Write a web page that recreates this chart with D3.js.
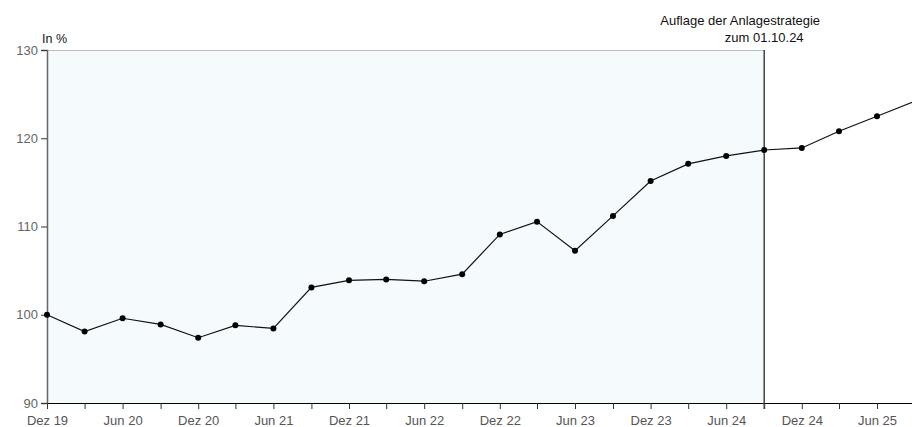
<!DOCTYPE html>
<html>
<head>
<meta charset="utf-8">
<script src="https://cdn.jsdelivr.net/npm/d3@7"></script>
<style>
  html, body { margin: 0; padding: 0; background: #fff; }
  svg { display: block; font-family: "Liberation Sans", Arial, sans-serif; }
</style>
</head>
<body>
<div id="chart"></div>
<script>
const width = 912;
const height = 427;
const margin = {top: 50, right: 35, bottom: 24, left: 47};

// quarterly values, Dez 19 .. Sep 25
const dates = [
    "2019-12", "2020-03", "2020-06", "2020-09", "2020-12", "2021-03", "2021-06", "2021-09",
    "2021-12", "2022-03", "2022-06", "2022-09", "2022-12", "2023-03", "2023-06", "2023-09",
    "2023-12", "2024-03", "2024-06", "2024-09", "2024-12", "2025-03", "2025-06", "2025-09"
];
const values = [
    100.0, 98.1, 99.6, 98.9, 97.4, 98.8, 98.45, 103.1,
    103.9, 104.0, 103.8, 104.6, 109.1, 110.55, 107.25, 111.2,
    115.15, 117.1, 118.0, 118.67, 118.9, 120.8, 122.5, 124.2
];
const yTicks = [90, 100, 110, 120, 130];
const monthNames = {6: "Jun", 12: "Dez"};
const launchDate = "2024-09";
const annotation = ["Auflage der Anlagestrategie", "zum 01.10.24"];

const parse = d3.utcParse("%Y-%m");
const data = dates.map((d, i) => ({date: parse(d), value: values[i]}));

const x = d3.scaleUtc()
    .domain([parse("2019-12"), parse("2025-06")])
    .range([margin.left, 877]);

const y = d3.scaleLinear()
    .domain([90, 130])
    .range([height - margin.bottom, margin.top]);

const svg = d3.create("svg")
    .attr("width", width)
    .attr("height", height);

const launchX = x(parse(launchDate));

// shaded history area
svg.append("rect")
    .attr("x", margin.left)
    .attr("y", y(130))
    .attr("width", launchX - margin.left)
    .attr("height", y(90) - y(130))
    .attr("fill", "#f5fafc");

svg.append("line")
    .attr("x1", margin.left).attr("x2", launchX)
    .attr("y1", y(130) + 0.5).attr("y2", y(130) + 0.5)
    .attr("stroke", "#bdbdbd");

// y axis
const yAxis = svg.append("g")
    .attr("transform", `translate(${margin.left},0)`)
    .call(d3.axisLeft(y).tickValues(yTicks).tickSize(6).tickPadding(3));
yAxis.select(".domain").attr("stroke", "#666").attr("stroke-width", 1.5);
yAxis.selectAll(".tick line").attr("stroke", "#333");
yAxis.selectAll("text").attr("fill", "#666").attr("font-size", "13px")
    .attr("font-family", "Liberation Sans, Arial, sans-serif");

// x axis
const xAxis = svg.append("g")
    .attr("transform", `translate(0,${y(90)})`)
    .call(d3.axisBottom(x)
        .tickValues(data.map(d => d.date))
        .tickSize(6)
        .tickPadding(7)
        .tickFormat(d => {
            const m = d.getUTCMonth() + 1;
            return monthNames[m] ? `${monthNames[m]} ${d3.utcFormat("%y")(d)}` : "";
        }));
xAxis.select(".domain").attr("d", `M${margin.left},0.5H${width}`).attr("stroke", "#000");
xAxis.selectAll(".tick line").attr("stroke", "#333");
xAxis.selectAll("text").attr("fill", "#555").attr("font-size", "13px")
    .attr("font-family", "Liberation Sans, Arial, sans-serif");

// launch marker
svg.append("line")
    .attr("x1", launchX).attr("x2", launchX)
    .attr("y1", y(130)).attr("y2", y(90) + 6)
    .attr("stroke", "#444")
    .attr("stroke-width", 1.5);

svg.append("text")
    .attr("x", launchX - 24)
    .attr("y", 25)
    .attr("text-anchor", "middle")
    .attr("font-size", "13px")
    .attr("fill", "#111")
    .text(annotation[0]);
svg.append("text")
    .attr("x", launchX)
    .attr("y", 42)
    .attr("text-anchor", "middle")
    .attr("font-size", "13px")
    .attr("fill", "#111")
    .text(annotation[1]);

svg.append("text")
    .attr("x", margin.left - 5)
    .attr("y", 43)
    .attr("font-size", "12.5px")
    .attr("fill", "#111")
    .text("In %");

// line + points
const line = d3.line()
    .x(d => x(d.date))
    .y(d => y(d.value));

svg.append("path")
    .datum(data)
    .attr("fill", "none")
    .attr("stroke", "#111")
    .attr("stroke-width", 1.2)
    .attr("d", line);

svg.selectAll("circle")
    .data(data)
    .join("circle")
    .attr("cx", d => x(d.date))
    .attr("cy", d => y(d.value))
    .attr("r", 3)
    .attr("fill", "#000");

d3.select("#chart").append(() => svg.node());
</script>
</body>
</html>
